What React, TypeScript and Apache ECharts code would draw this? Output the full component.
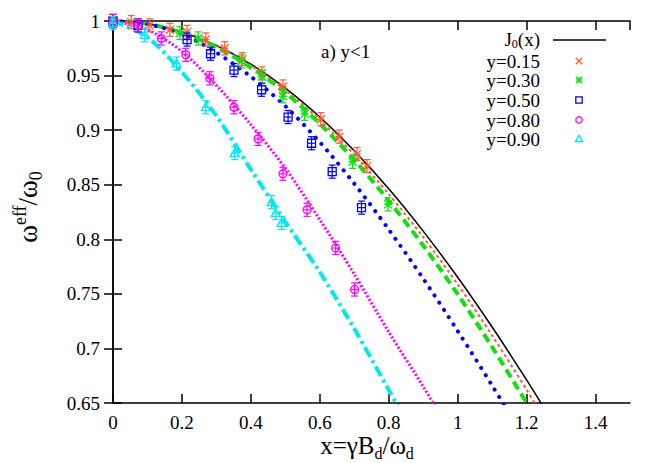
import React, { useEffect, useRef } from "react";
import * as echarts from "echarts";

const FONT = '"Liberation Serif", "Times New Roman", serif';

// Theory curves
const J0_X = [0, 0.1, 0.2, 0.3, 0.4, 0.5, 0.6, 0.7, 0.8, 0.9, 1.0, 1.1, 1.2, 1.3];
const J0_Y = [1, 0.9975, 0.99, 0.9776, 0.9604, 0.9385, 0.912, 0.8812, 0.8463, 0.8075, 0.7652, 0.7196, 0.6711, 0.6201];
const C15_X = [0, 0.1, 0.2, 0.3, 0.4, 0.5, 0.6, 0.7, 0.8, 0.9, 1.0, 1.1, 1.2, 1.3];
const C15_Y = [1, 0.9974, 0.9897, 0.977, 0.9592, 0.9367, 0.9093, 0.8774, 0.8414, 0.8019, 0.7587, 0.7118, 0.6621, 0.61];
const C30_X = [0, 0.1, 0.2, 0.3, 0.4, 0.5, 0.6, 0.7, 0.8, 0.9, 1.0, 1.1, 1.2, 1.3];
const C30_Y = [1, 0.9973, 0.9893, 0.976, 0.9574, 0.9343, 0.9058, 0.8727, 0.8353, 0.7943, 0.7497, 0.7013, 0.65, 0.597];
const C50_X = [0, 0.1, 0.2, 0.3, 0.4, 0.5, 0.6, 0.7, 0.8, 0.9, 1.0, 1.1, 1.2];
const C50_Y = [1, 0.997, 0.988, 0.971, 0.949, 0.922, 0.889, 0.851, 0.809, 0.764, 0.716, 0.666, 0.614];
const C80_X = [0, 0.1, 0.2, 0.3, 0.4, 0.5, 0.6, 0.7, 0.8, 0.9, 1.0];
const C80_Y = [1, 0.992, 0.972, 0.941, 0.905, 0.865, 0.818, 0.768, 0.715, 0.665, 0.612];
const C90_X = [0, 0.1, 0.2, 0.3, 0.4, 0.5, 0.6, 0.7, 0.8, 0.9];
const C90_Y = [1, 0.985, 0.953, 0.913, 0.864, 0.816, 0.77, 0.718, 0.662, 0.606];

// Simulation points
const P15_X = [0, 0.053, 0.107, 0.165, 0.215, 0.269, 0.324, 0.375, 0.432, 0.493, 0.603, 0.656, 0.708, 0.737];
const P15_Y = [1, 0.999, 0.996, 0.992, 0.99, 0.983, 0.975, 0.965, 0.952, 0.94, 0.91, 0.894, 0.878, 0.867];
const P30_X = [0, 0.194, 0.247, 0.373, 0.432, 0.493, 0.556, 0.695, 0.798];
const P30_Y = [1, 0.989, 0.984, 0.963, 0.949, 0.931, 0.915, 0.871, 0.832];
const P50_X = [0, 0.073, 0.215, 0.283, 0.351, 0.431, 0.508, 0.576, 0.636, 0.721];
const P50_Y = [1, 0.996, 0.983, 0.97, 0.955, 0.937, 0.912, 0.888, 0.862, 0.829];
const P80_X = [0, 0.073, 0.14, 0.211, 0.281, 0.351, 0.421, 0.493, 0.563, 0.646, 0.701];
const P80_Y = [1, 0.996, 0.984, 0.969, 0.9475, 0.921, 0.892, 0.86, 0.827, 0.792, 0.754];
const P90_X = [0, 0.092, 0.184, 0.269, 0.353, 0.46, 0.472, 0.489];
const P90_Y = [0.998, 0.987, 0.961, 0.921, 0.879, 0.834, 0.824, 0.815];
const ERR_X = 0.01;
const ERR_Y = 0.006;

const LEGEND_LABELS = ["y=0.15", "y=0.30", "y=0.50", "y=0.80", "y=0.90"];
const X_TICKS = { min: 0, max: 1.5, interval: 0.2 };
const Y_TICKS = { min: 0.65, max: 1, interval: 0.05 };

const COLORS = ["#ff5a30", "#11e011", "#0000ff", "#ff00ff", "#00e8f0"];
const KINDS = ["x", "star", "square", "circle", "triangle"];

function markerEls(kind: string, cx: number, cy: number, color: string, s: number) {
  const st = { stroke: color, fill: "none", lineWidth: 1.3 };
  if (kind === "x") {
    return [
      { type: "line", shape: { x1: cx - s, y1: cy - s, x2: cx + s, y2: cy + s }, style: st },
      { type: "line", shape: { x1: cx - s, y1: cy + s, x2: cx + s, y2: cy - s }, style: st },
    ];
  }
  if (kind === "star") {
    return [
      { type: "line", shape: { x1: cx - s, y1: cy - s, x2: cx + s, y2: cy + s }, style: st },
      { type: "line", shape: { x1: cx - s, y1: cy + s, x2: cx + s, y2: cy - s }, style: st },
      { type: "line", shape: { x1: cx - s, y1: cy, x2: cx + s, y2: cy }, style: st },
      { type: "line", shape: { x1: cx, y1: cy - s, x2: cx, y2: cy + s }, style: st },
    ];
  }
  if (kind === "square") {
    return [{ type: "rect", shape: { x: cx - s, y: cy - s, width: 2 * s, height: 2 * s }, style: st }];
  }
  if (kind === "circle") {
    return [{ type: "circle", shape: { cx, cy, r: s }, style: st }];
  }
  return [
    {
      type: "polygon",
      shape: { points: [[cx, cy - s * 1.15], [cx - s * 1.1, cy + s * 0.85], [cx + s * 1.1, cy + s * 0.85]] },
      style: st,
    },
  ];
}

function makeRender(kind: string, color: string) {
  return (params: any, api: any) => {
    const x = api.value(0);
    const y = api.value(1);
    const ex = api.value(2);
    const ey = api.value(3);
    const c = api.coord([x, y]);
    const t = api.coord([x, y + ey]);
    const b = api.coord([x, y - ey]);
    const l = api.coord([x - ex, y]);
    const r = api.coord([x + ex, y]);
    const st = { stroke: color, lineWidth: 1.2, fill: "none" };
    const cap = 3.5;
    const children: any[] = [
      { type: "line", shape: { x1: c[0], y1: t[1], x2: c[0], y2: b[1] }, style: st },
      { type: "line", shape: { x1: c[0] - cap, y1: t[1], x2: c[0] + cap, y2: t[1] }, style: st },
      { type: "line", shape: { x1: c[0] - cap, y1: b[1], x2: c[0] + cap, y2: b[1] }, style: st },
      { type: "line", shape: { x1: l[0], y1: c[1], x2: r[0], y2: c[1] }, style: st },
      ...markerEls(kind, c[0], c[1], color, 4),
    ];
    return { type: "group", children };
  };
}

const zip = (xs: number[], ys: number[]) => xs.map((x, i) => [x, ys[i]]);
const zipErr = (xs: number[], ys: number[]) => xs.map((x, i) => [x, ys[i], ERR_X, ERR_Y]);

export default function App() {
  const ref = useRef<HTMLDivElement>(null);
  useEffect(() => {
    if (!ref.current) return;
    const chart = echarts.init(ref.current, null, { renderer: "svg" });

    const axisCommon = {
      type: "value",
      axisLine: { show: true, lineStyle: { color: "#000", width: 1.5 } },
      axisTick: { show: true, inside: true, length: 9, lineStyle: { color: "#000", width: 1.5 } },
      splitLine: { show: false },
    };
    const labelStyle = { fontFamily: FONT, fontSize: 19, color: "#000" };

    const lineSeries = (name: string, xs: number[], ys: number[], color: string, width: number, type: any, cap: string = "butt") => ({
      name,
      type: "line",
      data: zip(xs, ys),
      showSymbol: false,
      symbol: "none",
      smooth: 0.3,
      clip: true,
      lineStyle: { color, width, type, cap },
      z: 2,
    });

    const pts = [
      [P15_X, P15_Y],
      [P30_X, P30_Y],
      [P50_X, P50_Y],
      [P80_X, P80_Y],
      [P90_X, P90_Y],
    ];

    const customSeries = pts.map((p, i) => ({
      name: LEGEND_LABELS[i],
      type: "custom",
      data: zipErr(p[0], p[1]),
      encode: { x: 0, y: 1 },
      renderItem: makeRender(KINDS[i], COLORS[i]),
      clip: false,
      z: 5,
    }));

    const legendEls: any[] = [];
    const legendRows = [61, 80, 100, 120, 139];
    legendEls.push({
      type: "text",
      x: 540,
      y: 39,
      style: {
        text: "{a|J}{s|0}{a|(x)}",
        align: "right",
        verticalAlign: "middle",
        rich: {
          a: { fontFamily: FONT, fontSize: 19, fill: "#000", lineHeight: 19, verticalAlign: "middle" },
          s: { fontFamily: FONT, fontSize: 12, fill: "#000", lineHeight: 9, height: 9, verticalAlign: "bottom" },
        },
      },
    });
    legendEls.push({
      type: "line",
      shape: { x1: 553, y1: 40, x2: 606, y2: 40 },
      style: { stroke: "#000", lineWidth: 1.5 },
    });
    LEGEND_LABELS.forEach((lab, i) => {
      legendEls.push({
        type: "text",
        x: 540,
        y: legendRows[i],
        style: { text: lab, align: "right", verticalAlign: "middle", fontFamily: FONT, fontSize: 19, fill: "#000" },
      });
      markerEls(KINDS[i], 579, legendRows[i], COLORS[i], 3.2).forEach((e) => legendEls.push(e));
    });

    const option: any = {
      animation: false,
      backgroundColor: "#fff",
      grid: { left: 113, right: 34, top: 21, bottom: 60, containLabel: false },
      xAxis: [
        {
          ...axisCommon,
          position: "bottom",
          min: X_TICKS.min,
          max: X_TICKS.max,
          interval: X_TICKS.interval,
          axisLabel: { ...labelStyle, margin: 10, showMaxLabel: false },
        },
        {
          ...axisCommon,
          position: "top",
          min: X_TICKS.min,
          max: X_TICKS.max,
          interval: X_TICKS.interval,
          axisLabel: { show: false },
        },
      ],
      yAxis: [
        {
          ...axisCommon,
          position: "left",
          min: Y_TICKS.min,
          max: Y_TICKS.max,
          interval: Y_TICKS.interval,
          axisLabel: { ...labelStyle, margin: 13 },
        },
        {
          ...axisCommon,
          position: "right",
          min: Y_TICKS.min,
          max: Y_TICKS.max,
          interval: Y_TICKS.interval,
          axisLabel: { show: false },
        },
      ],
      series: [
        lineSeries("J0(x)", J0_X, J0_Y, "#000", 1.5, "solid"),
        lineSeries("c15", C15_X, C15_Y, COLORS[0], 2, [3, 3]),
        lineSeries("c30", C30_X, C30_Y, COLORS[1], 4, [9, 5]),
        lineSeries("c50", C50_X, C50_Y, COLORS[2], 4, [0.1, 8.5], "round"),
        lineSeries("c80", C80_X, C80_Y, COLORS[3], 3, [2, 2]),
        lineSeries("c90", C90_X, C90_Y, COLORS[4], 4, [11, 4, 3, 4]),
        ...customSeries,
      ],
      graphic: [
        {
          type: "text",
          x: 321,
          y: 51,
          style: { text: "a) y<1", verticalAlign: "middle", fontFamily: FONT, fontSize: 19, fill: "#000" },
        },
        {
          type: "text",
          x: 28,
          y: 207,
          rotation: Math.PI / 2,
          style: {
            text: "{w|ω}{sup|eff}{w|/ω}{sub|0}",
            align: "center",
            verticalAlign: "middle",
            rich: {
              w: { fontFamily: FONT, fontSize: 27, fill: "#000", lineHeight: 34, verticalAlign: "middle" },
              sup: { fontFamily: FONT, fontSize: 18, fill: "#000", lineHeight: 18, height: 18, verticalAlign: "top" },
              sub: { fontFamily: FONT, fontSize: 18, fill: "#000", lineHeight: 18, height: 18, verticalAlign: "bottom" },
            },
          },
        },
        {
          type: "text",
          x: 367,
          y: 445,
          style: {
            text: "{t|x=γB}{sub|d}{t|/ω}{sub|d}",
            align: "center",
            verticalAlign: "middle",
            rich: {
              t: { fontFamily: FONT, fontSize: 25, fill: "#000", lineHeight: 24, verticalAlign: "middle" },
              sub: { fontFamily: FONT, fontSize: 16, fill: "#000", lineHeight: 8, height: 8, verticalAlign: "bottom" },
            },
          },
        },
        { type: "group", children: legendEls },
      ],
    };
    chart.setOption(option);
    return () => chart.dispose();
  }, []);
  return <div ref={ref} style={{ width: 664, height: 463, position: "absolute", left: 0, top: 0 }} />;
}
